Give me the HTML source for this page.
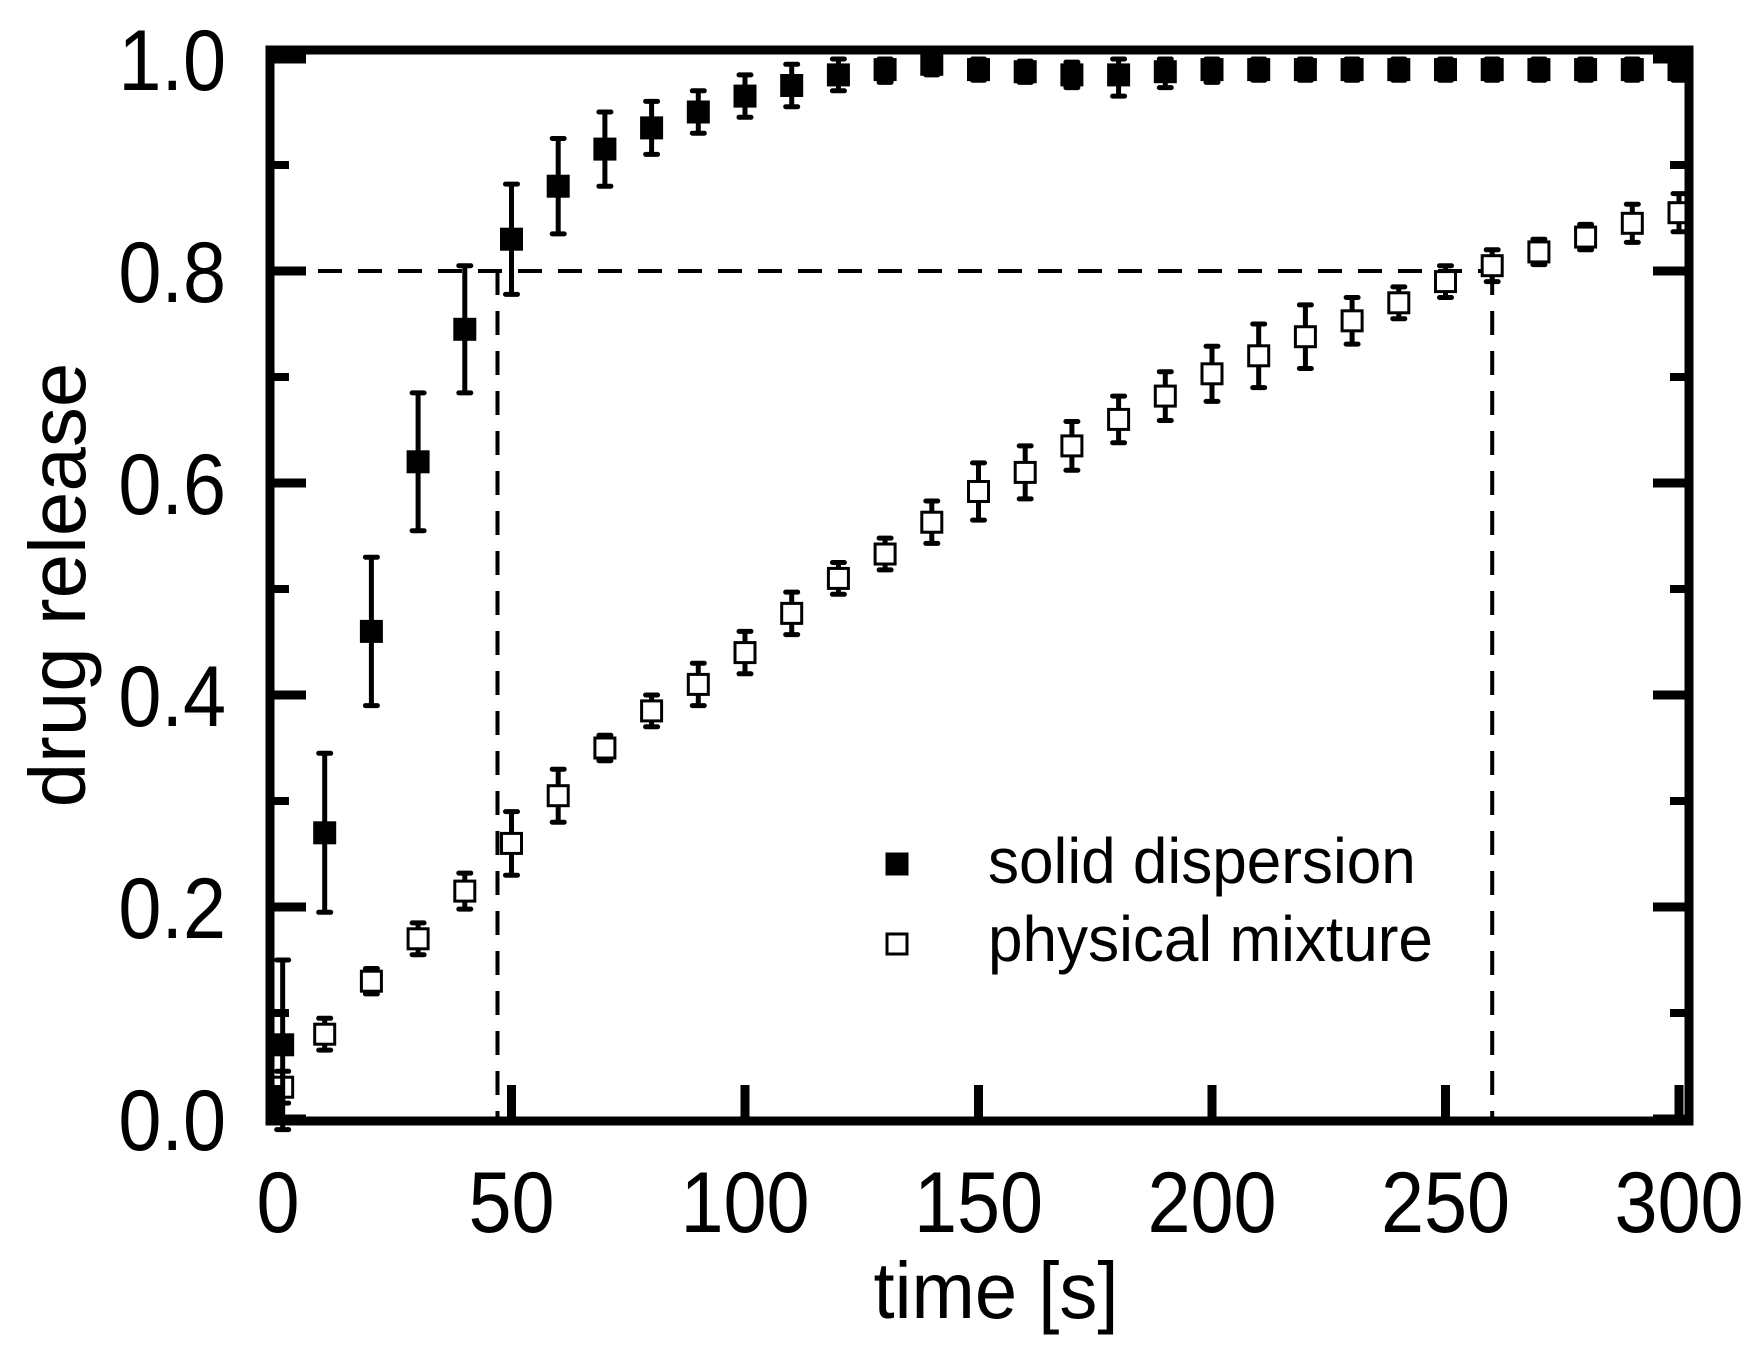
<!DOCTYPE html>
<html><head><meta charset="utf-8"><style>
html,body{margin:0;padding:0;background:#fff;}
svg{display:block;font-family:"Liberation Sans",sans-serif;}
</style></head><body>
<svg id="chart" width="1755" height="1347" viewBox="0 0 1755 1347">
<g id="marks"></g>
</svg>
<script>
const times = [1,10,20,30,40,50,60,70,80,90,100,110,120,130,140,150,160,170,180,190,200,210,220,230,240,250,260,270,280,290,300];
const solidVals = [0.07,0.27,0.46,0.62,0.745,0.83,0.88,0.915,0.935,0.95,0.965,0.975,0.985,0.99,0.995,0.99,0.988,0.985,0.985,0.988,0.99,0.99,0.99,0.99,0.99,0.99,0.99,0.99,0.99,0.99,0.99];
const solidErr = [0.08,0.075,0.07,0.065,0.06,0.052,0.045,0.035,0.025,0.02,0.02,0.02,0.015,0.012,0.01,0.01,0.01,0.012,0.02,0.015,0.012,0.01,0.01,0.01,0.01,0.01,0.01,0.01,0.01,0.01,0.01];
const physVals = [0.03,0.08,0.13,0.17,0.215,0.26,0.305,0.35,0.385,0.41,0.44,0.477,0.51,0.533,0.563,0.592,0.61,0.635,0.66,0.682,0.703,0.72,0.738,0.753,0.77,0.79,0.805,0.818,0.832,0.845,0.855];
const physErr = [0.015,0.015,0.012,0.015,0.017,0.03,0.025,0.012,0.015,0.02,0.02,0.02,0.015,0.015,0.02,0.027,0.025,0.023,0.022,0.023,0.026,0.03,0.03,0.022,0.015,0.015,0.015,0.012,0.012,0.018,0.018];
const xTicks = [0,50,100,150,200,250,300];
const yTicks = [0,0.2,0.4,0.6,0.8,1.0];
const yTickLabels = ["0.0","0.2","0.4","0.6","0.8","1.0"];
const yMinor = [0.1,0.3,0.5,0.7,0.9];
const refLevel = 0.8;
const refTimes = [47,260];

const NS="http://www.w3.org/2000/svg";
const g=document.getElementById('marks');
function X(t){return 278+(t/300)*(1679-278);}
function Y(v){return 1119-v*(1119-59);}
function el(tag,attrs){const e=document.createElementNS(NS,tag);for(const k in attrs)e.setAttribute(k,attrs[k]);g.appendChild(e);return e;}

let e=el('line',{x1:X(0),y1:Y(refLevel),x2:X(refTimes[1]),y2:Y(refLevel),stroke:'#000','stroke-width':4,'stroke-dasharray':'24 16'});


refTimes.forEach(t=>{
  const l=el('line',{x1:X(t),y1:Y(refLevel),x2:X(t),y2:Y(0),stroke:'#000','stroke-width':4,'stroke-dasharray':'24 16'});
  
  
});

function series(vals,errs,filled,name){
  vals.forEach((v,i)=>{
    const x=X(times[i]),y=Y(v),yt=Y(Math.min(v+errs[i],1.0)),yb=Y(v-errs[i]);
    const b=el('path',{d:`M${x},${yt}V${yb}M${x-6},${yt}H${x+6}M${x-6},${yb}H${x+6}`,stroke:'#000','stroke-width':5,fill:'none','stroke-linecap':'round'});
    
    
    const r=el('rect',{x:x-10,y:y-10,width:20,height:20,fill:filled?'#000':'#fff',stroke:'#000','stroke-width':3});
    
    
  });
}
series(physVals,physErr,false,'physical-mixture');
series(solidVals,solidErr,true,'solid-dispersion');

e=el('rect',{x:270,y:50,width:1419,height:1071,fill:'none',stroke:'#000','stroke-width':9});



xTicks.forEach(t=>{
  const l=el('line',{x1:X(t),y1:1121,x2:X(t),y2:1085,stroke:'#000','stroke-width':9});
  
  
  const tx=el('text',{x:0,y:0,'font-size':86,'text-anchor':'middle',transform:`translate(${X(t)},1232) scale(0.9,1)`});
  tx.textContent=t;
  
  
});
yTicks.forEach((v,i)=>{
  [[270,306],[1689,1653]].forEach(p=>{
    const l=el('line',{x1:p[0],y1:Y(v),x2:p[1],y2:Y(v),stroke:'#000','stroke-width':9});
    
    
  });
  const tx=el('text',{x:0,y:0,'font-size':86,'text-anchor':'end',transform:`translate(226,${Y(v)+31}) scale(0.9,1)`});
  tx.textContent=yTickLabels[i];
  
  
});
yMinor.forEach(v=>{
  [[270,289],[1689,1670]].forEach(p=>{
    const l=el('line',{x1:p[0],y1:Y(v),x2:p[1],y2:Y(v),stroke:'#000','stroke-width':8});
    
    
  });
});

e=el('text',{x:0,y:0,'font-size':80,'text-anchor':'middle',transform:'translate(996,1318) scale(0.95,1)'});
e.textContent='time [s]';


e=el('text',{x:0,y:0,'font-size':80,'text-anchor':'middle',transform:'translate(85,585) rotate(-90)'});
e.textContent='drug release';



e=el('rect',{x:887,y:854,width:20,height:20,fill:'#000',stroke:'#000','stroke-width':3});


e=el('text',{x:0,y:0,'font-size':64,transform:'translate(988,883) scale(0.97,1)'});
e.textContent='solid dispersion';


e=el('rect',{x:887,y:934,width:20,height:20,fill:'#fff',stroke:'#000','stroke-width':3});


e=el('text',{x:0,y:0,'font-size':64,transform:'translate(988,961) scale(0.97,1)'});
e.textContent='physical mixture';


</script>
</body></html>
